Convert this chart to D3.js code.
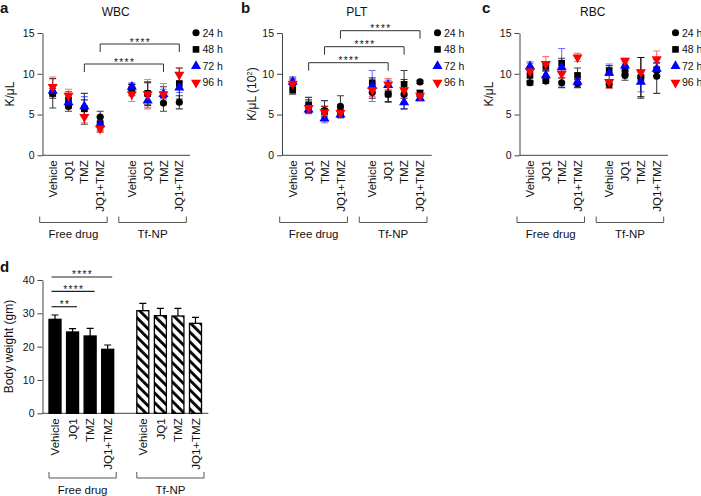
<!DOCTYPE html>
<html><head><meta charset="utf-8">
<script src="https://cdn.jsdelivr.net/npm/d3@7"></script>
<style>
body{margin:0;background:#fff}
svg{display:block}
text{font-family:"Liberation Sans",Arial,Helvetica,sans-serif;fill:#111}
</style>
</head><body>
<svg id="c" width="701" height="496"></svg>
<script>
// ---------- DATA ----------
const categories = ["Vehicle","JQ1","TMZ","JQ1+TMZ","Vehicle","JQ1","TMZ","JQ1+TMZ"];
const groups = ["Free drug","Tf-NP"];
const times = ["24 h","48 h","72 h","96 h"];
const yTicks = [0,5,10,15];
const bwTicks = [0,10,20,30,40];

// WBC (K/uL)
const wbc24 = [7.6, 6.0, 5.8, 4.7, 8.2, 7.5, 6.4, 6.5];
const wbc48 = [7.6, 6.8, 5.7, 3.9, 8.0, 7.6, 7.4, 8.8];
const wbc72 = [7.9, 6.5, 6.0, 3.8, 8.4, 6.7, 7.5, 8.3];
const wbc96 = [8.4, 7.3, 4.7, 3.3, 7.5, 7.5, 7.5, 9.9];
const wbc24sd = [1.8, 0.6, 1.0, 0.7, 0.5, 1.4, 1.0, 0.8];
const wbc48sd = [0.6, 1.0, 1.9, 0.8, 0.7, 1.4, 1.0, 1.9];
const wbc72sd = [0.6, 0.6, 1.2, 0.9, 0.5, 0.8, 0.6, 0.6];
const wbc96sd = [1.2, 0.8, 0.7, 0.5, 0.9, 1.8, 1.3, 0.8];

// PLT (K/uL x10^2)
const plt24 = [8.8, 6.0, 5.5, 6.0, 7.7, 7.5, 7.5, 9.0];
const plt48 = [8.0, 6.2, 5.4, 5.1, 8.9, 7.5, 8.7, 7.6];
const plt72 = [9.0, 5.6, 4.5, 5.0, 8.5, 8.6, 6.5, 7.0];
const plt96 = [8.8, 5.8, 5.3, 5.2, 8.0, 8.7, 8.0, 7.3];
const plt24sd = [0.8, 0.8, 1.2, 1.3, 0.7, 1.0, 1.8, 0.2];
const plt48sd = [0.5, 0.9, 0.6, 0.5, 0.6, 0.9, 1.7, 0.4];
const plt72sd = [0.4, 0.5, 0.5, 0.4, 1.9, 0.6, 0.8, 0.3];
const plt96sd = [0.5, 0.6, 0.7, 0.5, 0.8, 0.7, 1.0, 0.6];

// RBC (K/uL)
const rbc24 = [8.9, 9.1, 8.9, 8.8, 8.7, 9.8, 9.6, 9.7];
const rbc48 = [9.8, 10.9, 11.3, 9.8, 10.4, 10.3, 9.5, 10.5];
const rbc72 = [10.9, 9.8, 10.8, 9.0, 10.1, 11.0, 9.0, 10.6];
const rbc96 = [10.3, 11.2, 10.0, 12.0, 9.0, 11.6, 10.2, 11.8];
const rbc24sd = [0.3, 0.3, 0.6, 0.5, 0.4, 0.6, 2.4, 2.1];
const rbc48sd = [0.7, 0.5, 0.6, 0.9, 0.6, 0.5, 2.5, 0.8];
const rbc72sd = [0.4, 0.5, 2.3, 0.6, 1.1, 0.7, 1.2, 0.8];
const rbc96sd = [1.2, 0.9, 0.5, 0.5, 0.8, 0.3, 0.3, 1.0];

// Body weight (gm)
const bodyWeight = [28.2, 24.4, 23.2, 19.2, 30.8, 29.3, 29.2, 27.0];
const bodyWeightErr = [1.3, 1.0, 2.3, 1.3, 2.2, 2.2, 2.3, 1.8];

// significance comparisons (category indices)
const sigWBC = [{from:2,to:6,label:"****"},{from:3,to:7,label:"****"}];
const sigPLT = [{from:1,to:5,label:"****"},{from:2,to:6,label:"****"},{from:3,to:7,label:"****"}];
const sigBW  = [{from:0,to:1,label:"**"},{from:0,to:2,label:"****"},{from:0,to:3,label:"****"}];

// ---------- STYLE ----------
const colors = ["#000000","#000000","#0000ff","#ff0000"];
const symbols = [d3.symbolCircle, d3.symbolSquare, d3.symbolTriangle, d3.symbolTriangle];
const symSizes = [40, 44, 44, 44];
const rotations = [0,0,0,180];
const FONT = '"Liberation Sans",Arial,sans-serif';

const svg = d3.select("#c");
function slot(i){ return i < 4 ? i : i + 1; }

function styleAxis(ax){
  ax.select(".domain").attr("stroke","#444").attr("stroke-width",1);
  ax.selectAll(".tick line").attr("stroke","#444").attr("stroke-width",1);
  ax.selectAll(".tick text").attr("font-size","10.5px").attr("fill","#111").attr("font-family",FONT);
}

function drawCategoryAxis(g, x, y0, axisX, right, labelOffset, br){
  g.append("line").attr("x1",axisX).attr("x2",right).attr("y1",y0).attr("y2",y0)
    .attr("stroke","#444").attr("stroke-width",1);
  categories.forEach((c,i)=>{
    g.append("text").attr("transform",`translate(${x(slot(i))},${y0+labelOffset}) rotate(-90)`)
      .attr("text-anchor","end").attr("dy","0.36em").attr("font-size","11.5px").text(c);
  });
  groups.forEach((gname,k)=>{
    const xa = x(slot(k*4)) + br.l, xb = x(slot(k*4+3)) + br.r;
    g.append("path").attr("d",`M${xa},${br.y1}V${br.y2}H${xb}V${br.y1}`)
      .attr("fill","none").attr("stroke","#555").attr("stroke-width",1);
    g.append("text").attr("x",(xa+xb)/2).attr("y",br.ty).attr("text-anchor","middle")
      .attr("font-size","11.5px").text(gname);
  });
}

function scatterPanel(cfg){
  const g = svg.append("g");
  const x = d3.scaleLinear().domain([0,8]).range([cfg.x0, cfg.x8]);
  const y = d3.scaleLinear().domain([0,15]).range([155.3, 33]);
  const ax = g.append("g").attr("transform",`translate(${cfg.axisX},0)`)
    .call(d3.axisLeft(y).tickValues(yTicks).tickSize(5).tickSizeOuter(0).tickPadding(3));
  styleAxis(ax);
  drawCategoryAxis(g, x, y(0), cfg.axisX, cfg.right, 5,
    {l:-13, r:7, y1:216.5, y2:222.5, ty:237.5});
  g.append("text").attr("x",cfg.titleX).attr("y",15.5).attr("text-anchor","middle")
    .attr("font-size","12px").text(cfg.title);
  g.append("text").attr("x",cfg.letterX).attr("y",12.5).attr("font-size","15px")
    .attr("font-weight","bold").text(cfg.letter);
  const yl = g.append("text").attr("transform",`translate(${cfg.ylabX},94) rotate(-90)`)
    .attr("text-anchor","middle").attr("font-size","12px");
  yl.append("tspan").text(cfg.ylabel);
  if (cfg.sup){
    yl.append("tspan").attr("font-size","8px").attr("dy","-0.5em").text(cfg.sup);
    yl.append("tspan").attr("dy","0.33em").text(")");
  }
  cfg.sig.forEach((s,k)=>{
    const ly = cfg.sigY[k], xa = x(slot(s.from)), xb = x(slot(s.to));
    g.append("path").attr("d",`M${xa},${ly+8}V${ly}H${xb}V${ly+8}`)
      .attr("fill","none").attr("stroke","#333").attr("stroke-width",1);
    g.append("text").attr("x",(xa+xb)/2+0.7).attr("y",ly+1.5).attr("text-anchor","middle")
      .attr("font-size","10px").attr("letter-spacing","1.4px").text(s.label);
  });
  cfg.series.forEach((s,si)=>{
    s.vals.forEach((v,i)=>{
      const cx = x(slot(i)), lo = y(v - s.sd[i]), hi = y(v + s.sd[i]);
      g.append("path").attr("d",`M${cx},${lo}V${hi}M${cx-3.5},${lo}H${cx+3.5}M${cx-3.5},${hi}H${cx+3.5}`)
        .attr("fill","none").attr("stroke",colors[si]).attr("stroke-opacity",si===0||si===1?0.75:0.55)
        .attr("stroke-width",1.1);
    });
  });
  cfg.series.forEach((s,si)=>{
    const sym = d3.symbol().type(symbols[si]).size(symSizes[si]);
    s.vals.forEach((v,i)=>{
      g.append("path").attr("d",sym())
        .attr("transform",`translate(${x(slot(i))},${y(v)}) rotate(${rotations[si]})`)
        .attr("fill",colors[si]);
    });
  });
  times.forEach((t,k)=>{
    const ly = 32.8 + k*16.6;
    g.append("path").attr("d",d3.symbol().type(symbols[k]).size(symSizes[k])())
      .attr("transform",`translate(${cfg.legX},${ly}) rotate(${rotations[k]})`).attr("fill",colors[k]);
    g.append("text").attr("x",cfg.legX+6.5).attr("y",ly).attr("dy","0.36em")
      .attr("font-size","10.5px").text(t);
  });
}

scatterPanel({letter:"a",letterX:0,title:"WBC",titleX:115.7,ylabel:"K/\u03bcL",ylabX:14,
  axisX:42.5,right:190,x0:52.7,x8:179.3,legX:196,
  sig:sigWBC,sigY:[64,44],
  series:[{vals:wbc24,sd:wbc24sd},{vals:wbc48,sd:wbc48sd},{vals:wbc72,sd:wbc72sd},{vals:wbc96,sd:wbc96sd}]});

scatterPanel({letter:"b",letterX:241,title:"PLT",titleX:356.7,ylabel:"K/\u03bcL (10",sup:"2",ylabX:256,
  axisX:282,right:431.7,x0:292.7,x8:420,legX:437.5,
  sig:sigPLT,sigY:[62.7,46.7,30.7],
  series:[{vals:plt24,sd:plt24sd},{vals:plt48,sd:plt48sd},{vals:plt72,sd:plt72sd},{vals:plt96,sd:plt96sd}]});

scatterPanel({letter:"c",letterX:482,title:"RBC",titleX:592.7,ylabel:"K/\u03bcL",ylabX:493,
  axisX:519.5,right:668,x0:530,x8:656.7,legX:675.5,
  sig:[],sigY:[],
  series:[{vals:rbc24,sd:rbc24sd},{vals:rbc48,sd:rbc48sd},{vals:rbc72,sd:rbc72sd},{vals:rbc96,sd:rbc96sd}]});

// ---------- Panel d ----------
(function(){
  const g = svg.append("g");
  const defs = svg.append("defs");
  const pat = defs.append("pattern").attr("id","hatch").attr("patternUnits","userSpaceOnUse")
    .attr("width",6.8).attr("height",6.8).attr("patternTransform","rotate(-45)");
  pat.append("rect").attr("width",6.8).attr("height",6.8).attr("fill","#fff");
  pat.append("rect").attr("width",2.8).attr("height",6.8).attr("fill","#000");

  const x = d3.scaleLinear().domain([0,8]).range([55, 195.5]);
  const y = d3.scaleLinear().domain([0,40]).range([413.3, 280]);
  const bw = 12;
  const ax = g.append("g").attr("transform","translate(42.5,0)")
    .call(d3.axisLeft(y).tickValues(bwTicks).tickSize(5).tickSizeOuter(0).tickPadding(3));
  styleAxis(ax);
  drawCategoryAxis(g, x, y(0), 42.5, 208.3, 5, {l:-6, r:8.5, y1:472, y2:478, ty:493.5});
  g.append("text").attr("x",0).attr("y",272).attr("font-size","15px").attr("font-weight","bold").text("d");
  g.append("text").attr("transform","translate(9,346.5) rotate(-90)").attr("text-anchor","middle")
    .attr("dy","0.36em").attr("font-size","12px").text("Body weight (gm)");

  bodyWeight.forEach((v,i)=>{
    const cx = x(slot(i)), top = y(v), eTop = y(v + bodyWeightErr[i]);
    g.append("path").attr("d",`M${cx},${top}V${eTop}M${cx-3.5},${eTop}H${cx+3.5}`)
      .attr("stroke","#000").attr("stroke-width",1.2).attr("fill","none");
    g.append("rect").attr("x",cx-bw/2).attr("y",top).attr("width",bw).attr("height",y(0)-top)
      .attr("fill", i<4 ? "#000" : "url(#hatch)").attr("stroke","#000").attr("stroke-width",1.3);
  });

  const sigLines = [306.7, 291.3, 277];
  sigBW.forEach((s,k)=>{
    const ly = sigLines[k];
    const xa = x(slot(s.from)) - bw/2 + 2.5, xb = x(slot(s.to)) + bw/2 - 1.5;
    g.append("line").attr("x1",xa).attr("x2",xb).attr("y1",ly).attr("y2",ly)
      .attr("stroke","#222").attr("stroke-width",1.2);
    g.append("text").attr("x",(xa+xb)/2 + 0.7).attr("y",ly+1.2).attr("text-anchor","middle")
      .attr("font-size","10px").attr("letter-spacing","1.4px").text(s.label);
  });
})();
</script>
</body></html>
